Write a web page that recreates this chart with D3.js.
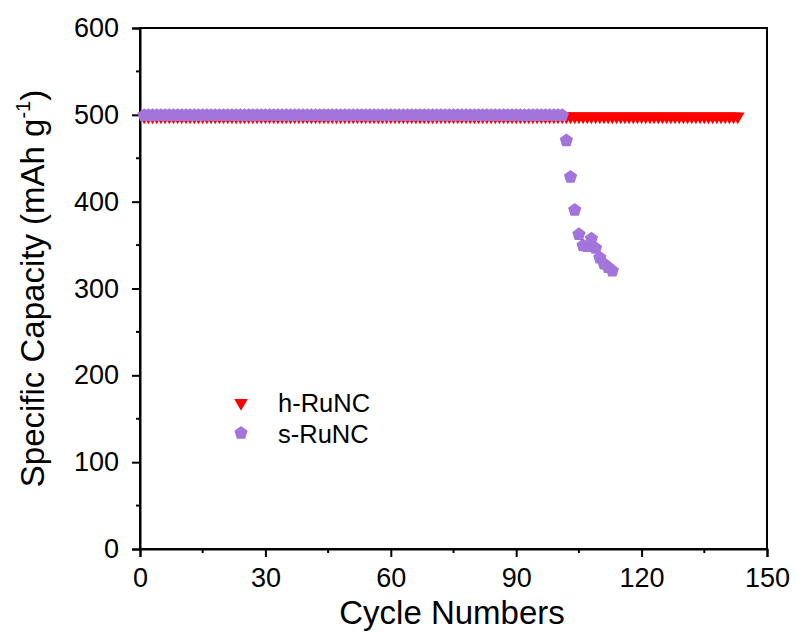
<!DOCTYPE html>
<html>
<head>
<meta charset="utf-8">
<script src="https://cdn.jsdelivr.net/npm/d3@7"></script>
<style>
  body { margin: 0; background: #fff; }
  svg { display: block; font-family: "Liberation Sans", Arial, sans-serif; }
</style>
</head>
<body>
<svg id="chart" width="796" height="635"></svg>
<script>
// Cycling data: specific capacity (mAh g-1) per cycle
const hCycles = d3.range(1, 144);
const hCapacity = hCycles.map(() => 500);

const sFlatCycles = d3.range(1, 102);
const sFlatCapacity = sFlatCycles.map(() => 500);
const sDropCycles   = [102, 103, 104, 105, 106, 107, 108, 109, 110, 111, 112, 113];
const sDropCapacity = [471, 429, 391, 363, 350, 349, 358, 347, 336, 329, 325, 321];
const sCycles = sFlatCycles.concat(sDropCycles);
const sCapacity = sFlatCapacity.concat(sDropCapacity);

const xTicks = [0, 30, 60, 90, 120, 150];
const yTicks = [0, 100, 200, 300, 400, 500, 600];
const seriesNames = ["h-RuNC", "s-RuNC"];
const seriesColors = ["#ff0000", "#a374dc"];

const svg = d3.select("#chart");
const m = { left: 140, right: 767, top: 28, bottom: 549 };

const x = d3.scaleLinear().domain([0, 150]).range([m.left, m.right]);
const y = d3.scaleLinear().domain([0, 600]).range([m.bottom, m.top]);

// pentagon path generator, circumradius r
function pentagon(r) {
  const pts = d3.range(5).map(i => {
    const a = -Math.PI / 2 + i * 2 * Math.PI / 5;
    return [r * Math.cos(a), r * Math.sin(a)];
  });
  return "M" + pts.map(p => p.join(",")).join("L") + "Z";
}
const triPath = d3.symbol().type(d3.symbolTriangle).size(80)();

// frame
svg.append("rect")
  .attr("x", m.left).attr("y", m.top)
  .attr("width", m.right - m.left).attr("height", m.bottom - m.top)
  .attr("fill", "none").attr("stroke", "#000").attr("stroke-width", 2);

// axes
const xAxis = svg.append("g").attr("transform", `translate(0,${m.bottom})`)
  .call(d3.axisBottom(x).tickValues(xTicks).tickSize(8).tickPadding(11));
const yAxis = svg.append("g").attr("transform", `translate(${m.left},0)`)
  .call(d3.axisLeft(y).tickValues(yTicks).tickSize(8).tickPadding(13));
[xAxis, yAxis].forEach(g => {
  g.select(".domain").attr("stroke-width", 2);
  g.selectAll(".tick line").attr("stroke-width", 2);
  g.selectAll(".tick text").attr("font-size", 27).attr("fill", "#000")
    .attr("font-family", "'Liberation Sans', Arial, sans-serif");
});

// minor ticks
const xMinor = d3.range(15, 150, 30);
const yMinor = d3.range(50, 600, 100);
svg.append("g").selectAll("line").data(xMinor).join("line")
  .attr("x1", d => x(d)).attr("x2", d => x(d))
  .attr("y1", m.bottom).attr("y2", m.bottom + 4)
  .attr("stroke", "#000").attr("stroke-width", 2);
svg.append("g").selectAll("line").data(yMinor).join("line")
  .attr("x1", m.left - 4).attr("x2", m.left)
  .attr("y1", d => y(d)).attr("y2", d => y(d))
  .attr("stroke", "#000").attr("stroke-width", 2);

// h-RuNC: downward triangles
svg.append("g").selectAll("path").data(hCycles).join("path")
  .attr("d", triPath)
  .attr("transform", (d, i) => `translate(${x(d)},${y(hCapacity[i]) + 1.5}) rotate(180)`)
  .attr("fill", seriesColors[0]);

// s-RuNC: pentagons
svg.append("g").selectAll("path").data(sCycles).join("path")
  .attr("d", pentagon(7))
  .attr("transform", (d, i) => `translate(${x(d)},${y(sCapacity[i]) + 0.5})`)
  .attr("fill", seriesColors[1]);

// legend
const leg = svg.append("g");
leg.append("path").attr("d", triPath)
  .attr("transform", "translate(241,403) rotate(180)").attr("fill", seriesColors[0]);
leg.append("path").attr("d", pentagon(7))
  .attr("transform", "translate(241,433)").attr("fill", seriesColors[1]);
leg.selectAll("text").data(seriesNames).join("text")
  .attr("x", 278).attr("y", (d, i) => 412 + i * 31)
  .attr("font-size", 25.5).attr("fill", "#000")
  .text(d => d);

// axis titles
svg.append("text")
  .attr("x", 452).attr("y", 624)
  .attr("text-anchor", "middle").attr("font-size", 33).attr("fill", "#000")
  .text("Cycle Numbers");

const yt = svg.append("text")
  .attr("transform", `translate(44,${(m.top + m.bottom) / 2}) rotate(-90)`)
  .attr("text-anchor", "middle").attr("font-size", 33).attr("fill", "#000");
yt.append("tspan").text("Specific Capacity (mAh g");
yt.append("tspan").attr("font-size", 20).attr("dy", -14).text("-1");
yt.append("tspan").attr("dy", 14).text(")");
</script>
</body>
</html>
